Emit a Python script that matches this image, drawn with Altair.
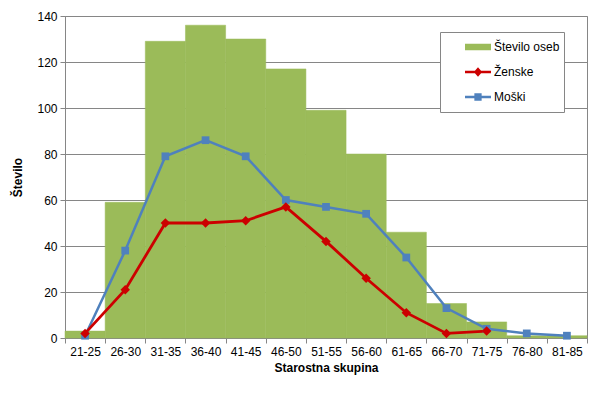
import altair as alt
import pandas as pd

categories = ["21-25", "26-30", "31-35", "36-40", "41-45", "46-50", "51-55",
              "56-60", "61-65", "66-70", "71-75", "76-80", "81-85"]
stevilo_oseb = [3, 59, 129, 136, 130, 117, 99, 80, 46, 15, 7, 1, 1]
zenske = [2, 21, 50, 50, 51, 57, 42, 26, 11, 2, 3, None, None]
moski = [1, 38, 79, 86, 79, 60, 57, 54, 35, 13, 4, 2, 1]

series_names = ["Število oseb", "Ženske", "Moški"]
series_colors = ["#9BBB59", "#CC0000", "#4F81BD"]
legend_shapes = [
    "M-1,-0.25H1V0.25H-1Z",
    "M-1,-0.09H1V0.09H-1Z M0,-0.36L0.32,0L0,0.36L-0.32,0Z",
    "M-1,-0.09H1V0.09H-1Z M-0.28,-0.28H0.28V0.28H-0.28Z",
]

bars_df = pd.DataFrame({"skupina": categories, "vrednost": stevilo_oseb})
zen_df = pd.DataFrame({"skupina": categories, "vrednost": zenske}).dropna()
mos_df = pd.DataFrame({"skupina": categories, "vrednost": moski})
legend_df = pd.DataFrame({"serija": series_names})

FONT = "Liberation Sans"

x_enc = alt.X(
    "skupina:N",
    sort=categories,
    scale=alt.Scale(paddingInner=0, paddingOuter=0),
    axis=alt.Axis(
        title="Starostna skupina",
        labelAngle=0,
        tickBand="extent",
        grid=False,
        domainColor="#868686",
        tickColor="#868686",
        tickSize=5,
        labelPadding=3,
        titlePadding=5,
    ),
)
y_enc = alt.Y(
    "vrednost:Q",
    scale=alt.Scale(domain=[0, 140], nice=False),
    axis=alt.Axis(
        title="Število",
        values=list(range(0, 141, 20)),
        grid=True,
        gridColor="#868686",
        domainColor="#868686",
        tickColor="#868686",
        tickSize=5,
        labelPadding=3,
        titlePadding=12,
    ),
)

# legend-only layer (drawn first, hidden beneath the bars)
legend_layer = alt.Chart(legend_df).mark_point(filled=True, opacity=1).encode(
    color=alt.Color(
        "serija:N",
        sort=series_names,
        scale=alt.Scale(domain=series_names, range=series_colors),
        legend=alt.Legend(
            title=None,
            orient="none",
            legendX=375,
            legendY=16,
            strokeColor="#868686",
            fillColor="white",
            padding=4,
            rowPadding=3,
            clipHeight=22,
            symbolSize=676,
            symbolOffset=21,
            symbolOpacity=1,
            symbolStrokeWidth=0,
            labelOffset=3,
            labelFontSize=12,
            labelFont=FONT,
            labelColor="black",
            labelExpr="datum.label + '\u2007\u2007'",
        ),
    ),
    shape=alt.Shape(
        "serija:N",
        sort=series_names,
        scale=alt.Scale(domain=series_names, range=legend_shapes),
        legend=alt.Legend(title=None),
    ),
)

bars = alt.Chart(bars_df).mark_bar(
    color=series_colors[0], stroke=series_colors[0], strokeWidth=0.5
).encode(x=x_enc, y=y_enc)

zen_line = alt.Chart(zen_df).mark_line(
    color=series_colors[1], strokeWidth=2.8
).encode(x=x_enc, y="vrednost:Q")
zen_pts = alt.Chart(zen_df).mark_point(
    shape="diamond", filled=True, size=90, color=series_colors[1], opacity=1
).encode(x=x_enc, y="vrednost:Q")

mos_line = alt.Chart(mos_df).mark_line(
    color=series_colors[2], strokeWidth=2.5
).encode(x=x_enc, y="vrednost:Q")
mos_pts = alt.Chart(mos_df).mark_point(
    shape="square", filled=True, size=60, color=series_colors[2], opacity=1
).encode(x=x_enc, y="vrednost:Q")

chart = (
    alt.layer(legend_layer, bars, mos_line, zen_line, mos_pts, zen_pts)
    .properties(
        width=522,
        height=322,
        autosize=alt.AutoSizeParams(type="none"),
        padding={"left": 57, "top": 8, "right": 4, "bottom": 45},
    )
    .configure_view(stroke="#868686", strokeWidth=1)
    .configure_axis(
        labelFont=FONT,
        labelFontSize=12,
        labelColor="black",
        titleFont=FONT,
        titleFontSize=12,
        titleFontWeight="bold",
        titleColor="black",
    )
)

chart.save("out.html", embed_options={"renderer": "svg", "actions": False})
